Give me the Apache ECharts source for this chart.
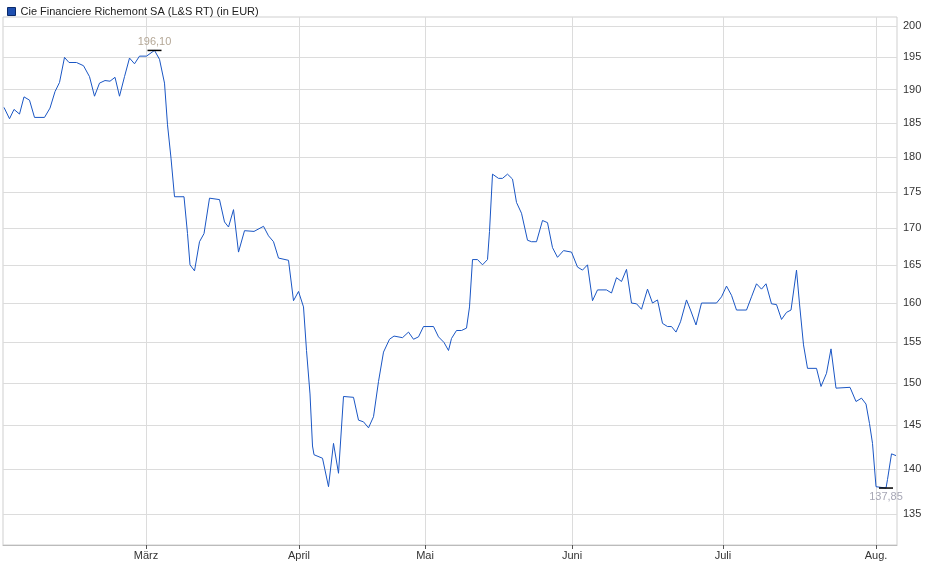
<!DOCTYPE html>
<html><head><meta charset="utf-8">
<script src="https://cdn.jsdelivr.net/npm/echarts@6/dist/echarts.min.js"></script>
<style>html,body{margin:0;padding:0;background:#fff}#c{width:940px;height:579px}</style>
</head><body><div id="c"></div>
<script>
const seriesName = 'Cie Financiere Richemont SA (L&S RT) (in EUR)';
const positions = [0,1.1,2,3.1,4,5.1,6.1,8.1,9.2,10.2,11.1,12.1,13,14.5,15.9,17.1,18.1,19.1,20.2,21.2,22.2,23.1,24.1,25.1,26.1,27.1,28.5,30.1,31.1,32.1,32.7,33.4,34.1,36,36.7,37.2,38.1,39.1,40,41.1,43.1,44.1,44.9,45.9,46.9,48.1,50,51.9,52.9,53.9,54.9,56.9,57.9,58.9,59.9,60.5,61.2,61.7,62,63.7,64.9,65.9,66.9,67.9,69.9,70.9,71.9,72.9,73.9,74.9,75.9,77.1,78,79.7,80.9,81.9,82.9,83.9,85.9,86.9,88,88.9,89.5,90.5,91.5,92.5,93.1,93.7,94.7,95.7,96.7,97.1,97.7,98.9,99.7,100.7,101.7,102.5,103.5,104.7,105.5,106.5,107.7,108.7,109.7,110.7,111.9,113.5,114.7,115.7,116.7,117.7,118.7,120.5,121.5,122.5,123.5,124.5,125.5,126.5,127.5,128.7,129.7,130.7,131.7,132.7,133.5,134.4,135.3,136.5,137.3,138.4,139.5,142.5,143.5,144.5,145.5,146.5,148.5,149.5,150.5,151.5,152.4,153.5,154.5,155.5,156.5,157.4,158.5,159.1,159.9,160.7,162.5,163.4,164.5,165.4,166.4,169.2,170.4,171.5,172.4,173.1,173.7,174.4,176.4,176.7,177.5,178.4];
const prices = [187.3,185.6,187.0,186.3,188.9,188.4,185.8,185.8,187.2,189.7,191.1,195.0,194.2,194.2,193.7,192.0,189.0,191.0,191.4,191.3,191.9,189.0,192.0,194.9,194.0,195.2,195.2,196.1,194.7,191.0,184.7,179.8,174.3,174.3,169.2,165.0,164.2,168.1,169.2,174.1,173.9,170.8,170.1,172.5,166.7,169.6,169.5,170.2,168.9,168.1,165.9,165.6,160.3,161.5,159.5,154.0,148.7,142.6,141.6,141.2,138.0,142.9,139.5,148.4,148.3,145.6,145.4,144.7,146.0,150.2,153.8,155.4,155.8,155.6,156.3,155.4,155.7,157.0,157.0,155.7,155.0,154.0,155.5,156.5,156.5,156.8,159.5,165.7,165.7,165.0,165.7,169.5,177.5,176.9,176.9,177.5,176.8,173.5,172.0,168.3,168.1,168.1,171.0,170.7,167.3,166.0,166.9,166.7,164.7,164.3,165.0,160.3,161.7,161.7,161.3,163.3,162.8,164.4,160.0,159.9,159.2,161.8,160.0,160.4,157.4,157.0,157.0,156.3,157.6,160.4,159.1,157.2,160.0,160.0,160.8,162.2,161.0,159.1,159.1,160.8,162.5,161.8,162.5,159.9,159.8,157.9,158.8,159.1,164.3,159.9,154.7,151.8,151.8,149.6,151.2,154.2,149.4,149.5,147.8,148.2,147.5,145.2,142.9,138.0,137.85,138.8,141.7,141.5];
const monthLabels = ['März','April','Mai','Juni','Juli','Aug.'];
const monthPositions = [28.4,59,84.2,113.6,143.8,174.4];
const yTicks = [135,140,145,150,155,160,165,170,175,180,185,190,195,200];
const maxLabel = '196,10';
const minLabel = '137,85';

const data = positions.map((p,i)=>[p, Math.log(prices[i])]);
const ln = Math.log;
const iMax = prices.indexOf(Math.max(...prices));
const iMin = prices.indexOf(Math.min(...prices));
const chart = echarts.init(document.getElementById('c'));
const gridColor = '#dcdcdc';
chart.setOption({
  animation:false,
  textStyle:{fontFamily:'Liberation Sans, Arial, sans-serif'},
  legend:{left:2,top:1,itemWidth:8,itemHeight:8,itemGap:4,icon:'rect',
    textStyle:{fontSize:11,color:'#222',fontFamily:'Liberation Sans, Arial'},
    data:[{name:seriesName,itemStyle:{color:'#1e4fb0',borderColor:'#0a2a6a',borderWidth:1}}]},
  grid:{left:3,right:43,top:17,bottom:34,show:true,borderColor:'#cfcfcf',borderWidth:1},
  xAxis:{type:'value',min:-0.2,max:178.6,
    axisLine:{show:true,lineStyle:{color:'#bbb'}},
    axisTick:{show:true,length:4,lineStyle:{color:'#555'},customValues:monthPositions},
    axisLabel:{customValues:monthPositions,fontSize:11,color:'#333',margin:5,
      formatter:v=>{const i=monthPositions.findIndex(m=>Math.abs(m-v)<0.01);return i>=0?monthLabels[i]:'';}},
    splitLine:{show:true,lineStyle:{color:gridColor}}},
  yAxis:{type:'value',position:'right',min:ln(131.67),max:ln(201.45),
    axisLine:{show:false},
    axisTick:{show:false,customValues:yTicks.map(ln)},
    axisLabel:{customValues:yTicks.map(ln),fontSize:11,color:'#333',margin:6,
      formatter:v=>String(Math.round(Math.exp(v)))},
    splitLine:{show:true,lineStyle:{color:gridColor}}},
  series:[{name:seriesName,type:'line',data:data,showSymbol:false,
    lineStyle:{color:'#1a56c4',width:1},itemStyle:{color:'#1e4fb0'},
    markPoint:{symbol:'rect',symbolSize:[14,1.5],itemStyle:{color:'#000'},
      data:[
        {coord:data[iMax],label:{show:true,position:'top',distance:2,formatter:maxLabel,color:'#b4a796',fontSize:11}},
        {coord:data[iMin],label:{show:true,position:'bottom',distance:3,formatter:minLabel,color:'#a7a7b5',fontSize:11}}
      ]}}]
});
</script></body></html>
